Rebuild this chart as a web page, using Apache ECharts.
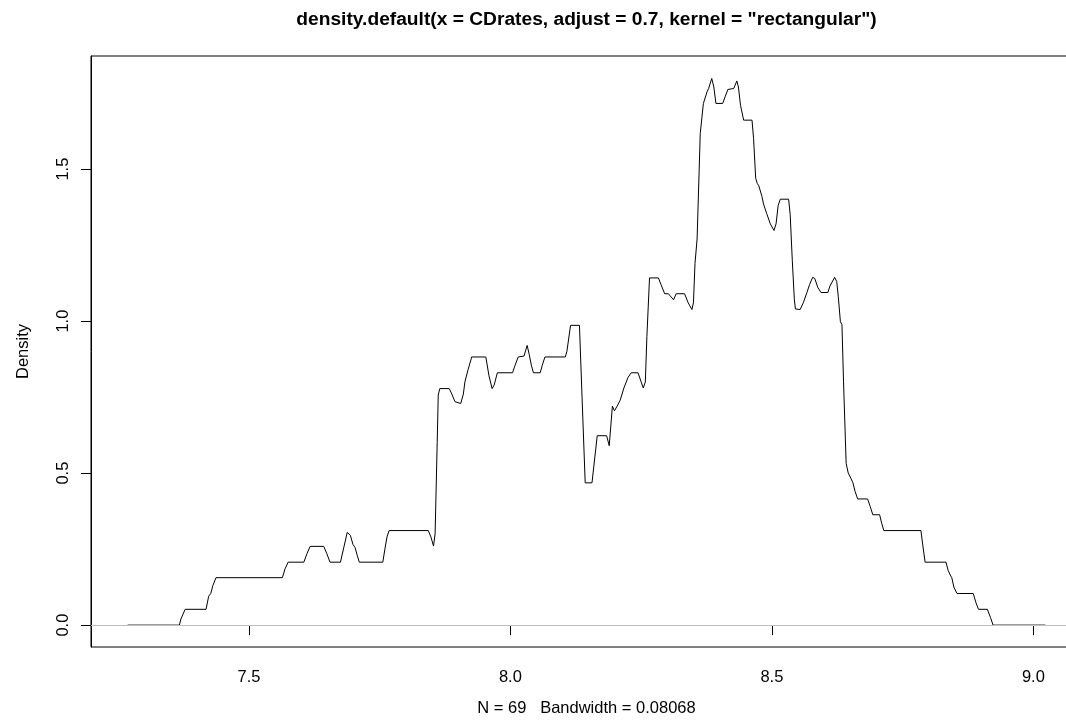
<!DOCTYPE html>
<html>
<head>
<meta charset="utf-8">
<title>density.default(x = CDrates)</title>
<script src="https://cdn.jsdelivr.net/npm/echarts@6/dist/echarts.min.js"></script>
<style>
  html, body { margin: 0; padding: 0; background: #ffffff; }
  #chart { width: 1066px; height: 725px; }
</style>
</head>
<body>
<div id="chart"></div>
<script>
// Estimated density curve (rectangular kernel), traced as x / density pairs
const densityX = [
  7.268, 7.367, 7.370, 7.378, 7.418, 7.423, 7.427, 7.431, 7.437, 7.564,
  7.569, 7.575, 7.605, 7.611, 7.617, 7.643, 7.649, 7.655, 7.675, 7.682,
  7.688, 7.691, 7.694, 7.699, 7.703, 7.707, 7.711, 7.756, 7.760, 7.764,
  7.768, 7.843, 7.848, 7.853, 7.856, 7.860, 7.862, 7.865, 7.883, 7.888,
  7.894, 7.905, 7.910, 7.913, 7.919, 7.926, 7.953, 7.959, 7.965, 7.969,
  7.975, 8.004, 8.009, 8.015, 8.026, 8.032, 8.036, 8.040, 8.044, 8.057,
  8.061, 8.066, 8.105, 8.108, 8.115, 8.132, 8.137, 8.143, 8.156, 8.160,
  8.166, 8.184, 8.189, 8.195, 8.199, 8.204, 8.210, 8.217, 8.225, 8.231,
  8.244, 8.250, 8.254, 8.258, 8.261, 8.266, 8.283, 8.288, 8.295, 8.302,
  8.312, 8.317, 8.333, 8.340, 8.347, 8.350, 8.353, 8.357, 8.361, 8.363,
  8.369, 8.376, 8.379, 8.385, 8.389, 8.393, 8.406, 8.411, 8.416, 8.427,
  8.433, 8.436, 8.440, 8.446, 8.462, 8.465, 8.469, 8.472, 8.475, 8.481,
  8.484, 8.490, 8.497, 8.504, 8.508, 8.512, 8.516, 8.532, 8.535, 8.539,
  8.543, 8.545, 8.554, 8.560, 8.567, 8.572, 8.578, 8.582, 8.588, 8.594,
  8.607, 8.611, 8.620, 8.624, 8.627, 8.631, 8.634, 8.637, 8.642, 8.646,
  8.651, 8.655, 8.659, 8.664, 8.683, 8.688, 8.693, 8.706, 8.710, 8.714,
  8.785, 8.788, 8.793, 8.833, 8.837, 8.841, 8.844, 8.848, 8.854, 8.885,
  8.890, 8.895, 8.912, 8.918, 8.923, 9.023
];
const densityY = [
  0.000, 0.000, 0.020, 0.052, 0.052, 0.095, 0.104, 0.130, 0.156, 0.156,
  0.185, 0.207, 0.207, 0.235, 0.259, 0.259, 0.235, 0.207, 0.207, 0.260,
  0.305, 0.310, 0.295, 0.265, 0.255, 0.230, 0.207, 0.207, 0.250, 0.290,
  0.311, 0.311, 0.290, 0.260, 0.300, 0.600, 0.757, 0.778, 0.778, 0.760,
  0.735, 0.729, 0.760, 0.800, 0.840, 0.882, 0.882, 0.820, 0.778, 0.790,
  0.830, 0.830, 0.855, 0.882, 0.885, 0.920, 0.890, 0.855, 0.830, 0.830,
  0.855, 0.882, 0.882, 0.900, 0.986, 0.986, 0.750, 0.468, 0.468, 0.530,
  0.623, 0.623, 0.590, 0.720, 0.705, 0.720, 0.740, 0.780, 0.815, 0.830,
  0.830, 0.800, 0.780, 0.800, 0.950, 1.142, 1.142, 1.120, 1.090, 1.090,
  1.070, 1.090, 1.090, 1.060, 1.038, 1.060, 1.190, 1.270, 1.500, 1.617,
  1.716, 1.754, 1.765, 1.798, 1.770, 1.716, 1.716, 1.740, 1.762, 1.765,
  1.790, 1.770, 1.710, 1.661, 1.661, 1.600, 1.470, 1.453, 1.445, 1.410,
  1.385, 1.354, 1.320, 1.298, 1.320, 1.380, 1.401, 1.401, 1.350, 1.200,
  1.070, 1.040, 1.038, 1.060, 1.094, 1.120, 1.144, 1.140, 1.110, 1.094,
  1.094, 1.115, 1.144, 1.130, 1.080, 0.998, 0.988, 0.800, 0.532, 0.500,
  0.483, 0.468, 0.440, 0.415, 0.415, 0.390, 0.363, 0.363, 0.335, 0.311,
  0.311, 0.270, 0.207, 0.207, 0.180, 0.165, 0.156, 0.125, 0.104, 0.104,
  0.075, 0.052, 0.052, 0.025, 0.000, 0.000
];

const xTicks = [7.5, 8.0, 8.5, 9.0];
const yTicks = [0.0, 0.5, 1.0, 1.5];
const xRange = [7.198, 9.093];
const yRange = [-0.072, 1.872];

const titleText = 'density.default(x = CDrates, adjust = 0.7, kernel = "rectangular")';
const xLabelText = 'N = 69   Bandwidth = 0.08068';
const yLabelText = 'Density';

const FONT = '"Liberation Sans", Arial, Helvetica, sans-serif';
const LABEL_SIZE = 16.5;

const grid = { left: 91, top: 56, width: 991, height: 591 };
const chart = echarts.init(document.getElementById('chart'), null, { renderer: 'canvas' });

const curve = densityX.map((x, i) => [x, densityY[i]]);

chart.setOption({
  animation: false,
  backgroundColor: '#ffffff',
  grid: Object.assign({
    show: true,
    borderColor: '#000000',
    borderWidth: 1,
    backgroundColor: 'transparent',
    containLabel: false,
    outerBoundsMode: 'none'
  }, grid),
  xAxis: {
    type: 'value',
    min: xRange[0],
    max: xRange[1],
    splitLine: { show: false },
    axisLine: { show: true, lineStyle: { color: '#000000', width: 1 } },
    axisTick: {
      show: true,
      customValues: xTicks,
      length: 10,
      lineStyle: { color: '#000000', width: 1 }
    },
    axisLabel: {
      customValues: xTicks,
      formatter: v => v.toFixed(1),
      fontSize: LABEL_SIZE,
      color: '#000000',
      fontFamily: FONT,
      margin: 22
    }
  },
  yAxis: {
    type: 'value',
    min: yRange[0],
    max: yRange[1],
    splitLine: { show: false },
    axisLine: { show: true, lineStyle: { color: '#000000', width: 1 } },
    axisTick: {
      show: true,
      customValues: yTicks,
      length: 10,
      lineStyle: { color: '#000000', width: 1 }
    },
    axisLabel: {
      customValues: yTicks,
      formatter: v => v.toFixed(1),
      rotate: 90,
      fontSize: LABEL_SIZE,
      color: '#000000',
      fontFamily: FONT,
      margin: 19
    }
  },
  series: [{
    type: 'line',
    data: curve,
    showSymbol: false,
    symbol: 'none',
    smooth: false,
    lineStyle: { color: '#000000', width: 1 },
    z: 2,
    markLine: {
      silent: true,
      symbol: 'none',
      label: { show: false },
      lineStyle: { color: '#bebebe', width: 1, type: 'solid' },
      data: [{ yAxis: 0 }]
    }
  }],
  graphic: [
    {
      type: 'text',
      x: grid.left + grid.width / 2,
      y: 20,
      style: {
        text: titleText,
        fontSize: 19.2,
        fontWeight: 'bold',
        fontFamily: FONT,
        fill: '#000000',
        textAlign: 'center',
        textVerticalAlign: 'middle'
      }
    },
    {
      type: 'text',
      x: grid.left + grid.width / 2,
      y: 708,
      style: {
        text: xLabelText,
        fontSize: LABEL_SIZE,
        fontFamily: FONT,
        fill: '#000000',
        textAlign: 'center',
        textVerticalAlign: 'middle'
      }
    },
    {
      type: 'text',
      x: 23,
      y: grid.top + grid.height / 2,
      rotation: Math.PI / 2,
      style: {
        text: yLabelText,
        fontSize: LABEL_SIZE,
        fontFamily: FONT,
        fill: '#000000',
        textAlign: 'center',
        textVerticalAlign: 'middle'
      }
    }
  ]
});
</script>
</body>
</html>
